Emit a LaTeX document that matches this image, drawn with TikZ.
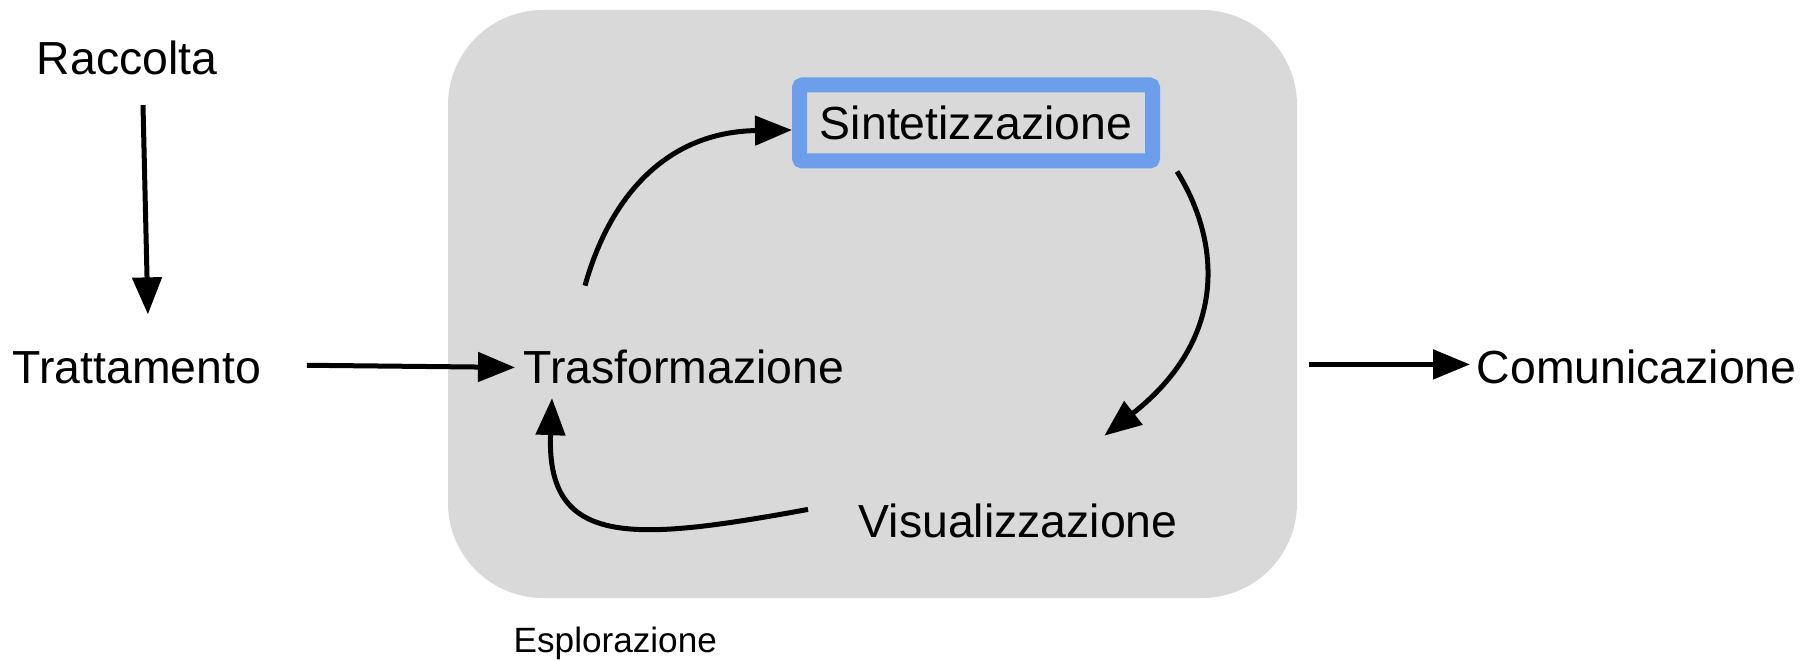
\documentclass[tikz,border=0pt]{standalone}
\usepackage{fontspec}
\setmainfont{Liberation Sans}
\usepackage{tikz}
\usepackage{xcolor}
\usetikzlibrary{arrows.meta}
\usetikzlibrary{calc}
\definecolor{boxgray}{HTML}{D9D9D9}
\definecolor{sintblue}{HTML}{6D9EEB}

\begin{document}
\begin{tikzpicture}[x=0.1mm, y=-0.1mm, >={Triangle[length=3.7mm,width=2.9mm]},
    every node/.style={inner sep=0pt, font=\fontsize{13.2}{15}\selectfont},
    arr/.style={->, line width=0.5mm}]
  \useasboundingbox (0,0) rectangle (1815,661);

  \node[fill=boxgray, rounded corners=9.5mm, minimum width=84.9mm, minimum height=58.8mm] (box) at (872.5,304) {};

  \node[anchor=base]      (rac)   at (127,75)  {Raccolta};
  \node[anchor=base west] (trat)  at (12,383)  {Trattamento};
  \node[anchor=base west] (trasf) at (523,383) {Trasformazione};
  \node[draw=sintblue, line width=1.5mm, rounded corners=0.3mm,
        minimum width=35.3mm, minimum height=7.6mm] (sint) at (976,123) {Sintetizzazione};
  \node[anchor=base west] (vis)   at (858,537) {Visualizzazione};
  \node[anchor=base west] (com)   at (1476,383) {Comunicazione};
  \node[anchor=base west, font=\fontsize{10}{12}\selectfont] (espl) at (513,652) {Esplorazione};

  \draw[arr] ($(rac.south)+(16,29)$) -- ($(trat.north)+(11,-36)$);
  \draw[arr] ($(trat.east)+(45,-2)$) -- ($(trasf.west)+(-8,1)$);
  \draw[arr] ($(trasf.north west)+(62,-63)$) .. controls +(25,-90) and +(-125,2) .. ($(sint.west)+(0,7)$);
  \draw[arr] ($(sint.south east)+(17,3)$) .. controls +(43,69) and +(125,-98) .. ($(vis.north east)+(-74,-67)$);
  \draw[arr] ($(vis.west)+(-50,-11)$) .. controls +(-175,32) and +(-6,150) .. ($(trasf.south west)+(29,14)$);
  \draw[arr] ($(box.east |- com.west)+(11,-2)$) -- ($(com.west)+(-6,-2)$);
\end{tikzpicture}
\end{document}
